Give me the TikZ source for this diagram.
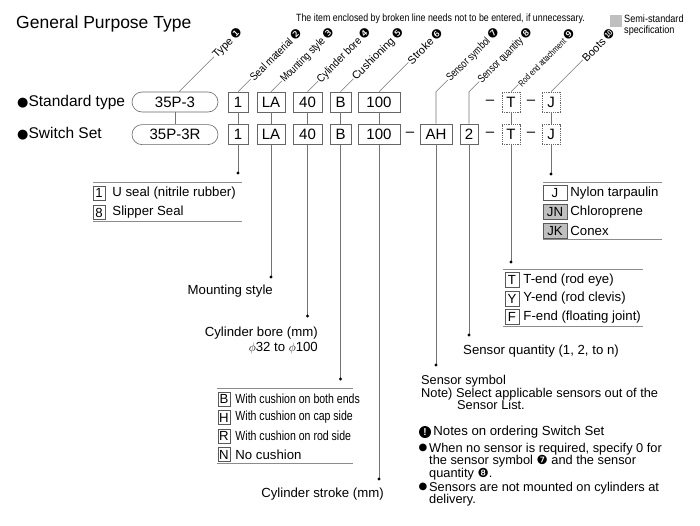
\documentclass[tikz,border=0pt]{standalone}
\usepackage{graphicx}
\usepackage{fontspec}
\setmainfont{Liberation Sans}
\newfontfamily\symfont{DejaVu Sans}
\usepackage{tikz}
\usetikzlibrary{positioning, calc}
\newcommand{\setfs}[2]{\fontsize{#1}{#2}\selectfont}
\newcommand{\condensed}[2][0.8]{\scalebox{#1}[1]{#2}}
\newcommand{\circnum}[1]{{\symfont\fontsize{12.5}{12.5}\selectfont #1}}
\newcommand{\blt}[1]{{\symfont\fontsize{#1}{#1}\selectfont ●}}
\tikzstyle{codebox} = [draw=black!60, line width=0.6pt, minimum height=20pt, inner sep=0pt, font=\setfs{15}{17}]
\tikzstyle{pill} = [codebox, rounded corners=10pt, minimum width=86pt]
\tikzstyle{optbox} = [codebox, dash pattern=on 1.2pt off 1pt]
\tikzstyle{dashsign} = [inner sep=0pt, font=\setfs{15}{17}]
\tikzstyle{link} = [draw=black!55, line width=0.6pt]
\tikzstyle{tag} = [rotate=45, anchor=east, inner sep=0.5pt, font=\setfs{11}{11}]
\tikzstyle{rule} = [draw=black!45, line width=0.7pt]
\tikzstyle{keybox} = [draw=black!65, line width=0.5pt, minimum height=14pt, inner sep=0pt, font=\setfs{13.2}{14}]
\tikzstyle{semikey} = [keybox, fill=black!25]
\tikzstyle{desc} = [anchor=west, inner sep=0pt, font=\setfs{13.2}{14}]
\tikzstyle{dotmark} = [fill=black]

\begin{document}
\begin{tikzpicture}[x=1pt,y=-1pt]
\useasboundingbox (0,0) rectangle (700,525);

% heading and legend
\node[anchor=west, inner sep=0pt, font=\setfs{17.5}{20}] (title) at (16,24) {General Purpose Type};
\node[anchor=east, inner sep=0pt, font=\setfs{10.5}{12}] (hint) at (585,19) {\condensed[0.84]{The item enclosed by broken line needs not to be entered, if unnecessary.}};
\node[fill=black!25, minimum size=12pt, inner sep=0pt] (semi-key) at (616,21) {};
\node[anchor=north west, inner sep=0pt, align=left, font=\setfs{10.5}{11}] (semi-text) at (624,15) {\condensed[0.87]{Semi-standard}\\\condensed[0.87]{specification}};

% row titles
\node[anchor=west, inner sep=0pt, font=\setfs{15.5}{17}] (row-std) at (17,102) {\blt{13}Standard type};
\node[anchor=west, inner sep=0pt, font=\setfs{15.5}{17}] (row-sw) at (17,134) {\blt{13}Switch Set};

% standard type
\node[pill] (st-type) at (175,102) {35P-3};
\node[codebox, minimum width=20pt] (st-seal) at (238,102) {1};
\node[codebox, minimum width=28pt] (st-mount) at (271,102) {LA};
\node[codebox, minimum width=29pt] (st-bore) at (307.5,102) {40};
\node[codebox, minimum width=21pt] (st-cush) at (340.5,102) {B};
\node[codebox, minimum width=42pt] (st-stroke) at (379,102) {100};
\node[dashsign] (st-dash1) at (490,102) {--};
\node[optbox, minimum width=18pt] (st-rod) at (511,102) {T};
\node[dashsign] (st-dash2) at (531,102) {--};
\node[optbox, minimum width=18pt] (st-boots) at (551,102) {J};

% switch set
\node[pill, below=12pt of st-type] (sw-type) {35P-3R};
\node[codebox, minimum width=20pt, below=12pt of st-seal] (sw-seal) {1};
\node[codebox, minimum width=28pt, below=12pt of st-mount] (sw-mount) {LA};
\node[codebox, minimum width=29pt, below=12pt of st-bore] (sw-bore) {40};
\node[codebox, minimum width=21pt, below=12pt of st-cush] (sw-cush) {B};
\node[codebox, minimum width=42pt, below=12pt of st-stroke] (sw-stroke) {100};
\node[dashsign] (sw-dash1) at (410,134) {--};
\node[codebox, minimum width=32pt] (sw-sym) at (436,134) {AH};
\node[codebox, minimum width=18pt] (sw-qty) at (469,134) {2};
\node[dashsign] (sw-dash2) at (490,134) {--};
\node[optbox, minimum width=18pt, below=12pt of st-rod] (sw-rod) {T};
\node[dashsign] (sw-dash3) at (531,134) {--};
\node[optbox, minimum width=18pt, below=12pt of st-boots] (sw-boots) {J};

\foreach \k in {type,seal,mount,bore,cush,stroke,rod,boots}
  \draw[link] (st-\k) -- (sw-\k);

% item names
\coordinate (type-foot) at ($(st-type.north)+(4,0)$);
\node[tag] (tag-type) at ($(type-foot)+(62,-62)$) {Type\,\circnum{❶}};
\draw[link] (type-foot) -- (tag-type.west);
\foreach \k/\txt/\sc/\n in {seal/Seal material/0.86/❷, mount/Mounting style/0.82/❸, bore/Cylinder bore/0.89/❹, cush/Cushioning/1/❺, stroke/Stroke/1/❻, boots/Boots/1/❿}
{
  \node[tag] (tag-\k) at ($(st-\k.north)+(62,-62)$) {\condensed[\sc]{\txt}\,\circnum{\n}};
  \draw[link] (st-\k.north) -- (tag-\k.west);
}
\node[tag, font=\setfs{9}{9}] (tag-rod) at ($(st-rod.north)+(62,-62)$) {\condensed[0.78]{Rod end attachment}\,\circnum{❾}};
\draw[link] (st-rod.north) -- (tag-rod.west);
\coordinate (sym-bend) at (sw-sym.north |- st-seal.north);
\node[tag] (tag-sym) at ($(sym-bend)+(62,-62)$) {\condensed[0.78]{Sensor symbol}\,\circnum{❼}};
\draw[link] (sw-sym.north) -- (sym-bend) -- (tag-sym.west);
\coordinate (qty-bend) at (sw-qty.north |- st-seal.north);
\node[tag] (tag-qty) at ($(qty-bend)+(62,-62)$) {\condensed[0.77]{Sensor quantity}\,\circnum{❽}};
\draw[link] (sw-qty.north) -- (qty-bend) -- (tag-qty.west);

% drop lines
\coordinate (seal-dot) at (sw-seal |- 0,173);
\coordinate (mount-dot) at (sw-mount |- 0,277);
\coordinate (bore-dot) at (sw-bore |- 0,316);
\coordinate (cush-dot) at (sw-cush |- 0,379);
\coordinate (stroke-dot) at (sw-stroke |- 0,479);
\coordinate (sym-dot) at (sw-sym |- 0,365);
\coordinate (qty-dot) at (sw-qty |- 0,335);
\coordinate (rod-dot) at (sw-rod |- 0,262);
\coordinate (boots-dot) at (sw-boots |- 0,174);
\foreach \k in {seal,mount,bore,cush,stroke,sym,qty,rod,boots}
{
  \draw[link] (sw-\k) -- (\k-dot);
  \fill[dotmark] (\k-dot) circle (1.6pt);
}

% seal material
\draw[rule] (93,182) -- (242,182);
\node[keybox, minimum width=12pt] (seal-k1) at (99,193) {1};
\node[desc, right=7pt of seal-k1] (seal-d1) {U seal (nitrile rubber)};
\node[keybox, minimum width=12pt, below=5pt of seal-k1] (seal-k2) {8};
\node[desc, right=7pt of seal-k2] (seal-d2) {Slipper Seal};
\draw[rule] (93,221) -- (242,221);

% mounting style, bore
\node[desc, anchor=north east] (mount-text) at (273,285) {Mounting style};
\node[desc, anchor=north east, align=right, font=\setfs{13.2}{15}] (bore-text) at (318,327) {Cylinder bore (mm)\\$\phi$32 to $\phi$100};

% cushioning
\draw[rule] (217,388) -- (353,388);
\node[keybox, minimum width=12pt] (cush-k1) at (224,399) {B};
\node[desc, right=5pt of cush-k1] (cush-d1) {\condensed[0.8]{With cushion on both ends}};
\node[keybox, minimum width=12pt, below=4pt of cush-k1] (cush-k2) {H};
\node[desc, right=5pt of cush-k2] (cush-d2) {\condensed[0.8]{With cushion on cap side}};
\node[keybox, minimum width=12pt, below=4pt of cush-k2] (cush-k3) {R};
\node[desc, right=5pt of cush-k3] (cush-d3) {\condensed[0.8]{With cushion on rod side}};
\node[keybox, minimum width=12pt, below=4pt of cush-k3] (cush-k4) {N};
\node[desc, right=5pt of cush-k4] (cush-d4) {No cushion};
\draw[rule] (217,463) -- (353,463);

% stroke
\node[desc, anchor=north east] (stroke-text) at (384,488) {Cylinder stroke (mm)};

% sensors
\node[desc, anchor=north west] (qty-text) at (463,345) {Sensor quantity (1, 2, to n)};
\node[desc, anchor=north west, align=left, font=\setfs{12.8}{12.6}] (sym-text) at (421,375) {Sensor symbol\\Note) Select applicable sensors out of the\\\hspace*{36pt}Sensor List.};

% rod end attachment
\draw[rule] (503,269) -- (643,269);
\node[keybox, minimum width=14pt, minimum height=15pt] (rod-k1) at (512,280) {T};
\node[desc, right=4pt of rod-k1] (rod-d1) {T-end (rod eye)};
\node[keybox, minimum width=14pt, minimum height=15pt, below=3pt of rod-k1] (rod-k2) {Y};
\node[desc, right=4pt of rod-k2] (rod-d2) {Y-end (rod clevis)};
\node[keybox, minimum width=14pt, minimum height=15pt, below=3pt of rod-k2] (rod-k3) {F};
\node[desc, right=4pt of rod-k3] (rod-d3) {F-end (floating joint)};
\draw[rule] (503,326) -- (643,326);

% boots
\draw[rule] (543,182) -- (662,182);
\node[keybox, minimum width=24pt, minimum height=15pt] (boots-k1) at (555,193) {J};
\node[desc, right=3pt of boots-k1] (boots-d1) {Nylon tarpaulin};
\node[semikey, minimum width=24pt, minimum height=15pt, below=3.5pt of boots-k1] (boots-k2) {JN};
\node[desc, right=3pt of boots-k2] (boots-d2) {Chloroprene};
\node[semikey, minimum width=24pt, minimum height=15pt, below=3.5pt of boots-k2] (boots-k3) {JK};
\node[desc, right=3pt of boots-k3] (boots-d3) {Conex};
\draw[rule] (543,239) -- (662,239);

% notes
\node[circle, fill=black, inner sep=0pt, minimum size=12pt, text=white, font=\bfseries\setfs{10}{10}] (note-icon) at (425,432) {!};
\node[desc, right=2pt of note-icon] (note-head) {Notes on ordering Switch Set};
\node[inner sep=0pt] (note-b1) at (423,448) {\blt{10}};
\node[desc, anchor=north west, align=left, font=\setfs{12.8}{12.5}] (note-t1) at (429,443) {When no sensor is required, specify 0 for\\the sensor symbol \circnum{❼} and the sensor\\quantity \circnum{❽}.};
\node[inner sep=0pt] (note-b2) at (423,487) {\blt{10}};
\node[desc, anchor=north west, align=left, font=\setfs{12.8}{12.5}] (note-t2) at (429,482) {Sensors are not mounted on cylinders at\\delivery.};
\end{tikzpicture}
\end{document}
